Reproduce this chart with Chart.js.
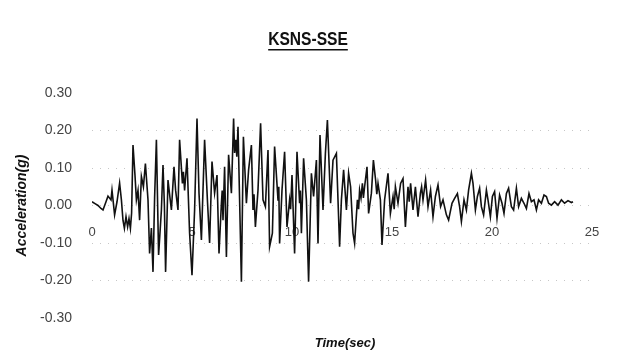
<!DOCTYPE html>
<html>
<head>
<meta charset="utf-8">
<title>KSNS-SSE</title>
<script src="https://cdn.jsdelivr.net/npm/chart.js@4.4.1/dist/chart.umd.min.js"></script>
<style>
  html, body { margin: 0; padding: 0; background: #fff; }
  #wrap { width: 624px; height: 358px; position: relative; }
</style>
</head>
<body>
<div id="wrap"><canvas id="chart-main"></canvas></div>
<script>
/* global Chart */

const chartTitle = "KSNS-SSE";
const xTitle = "Time(sec)";
const yTitle = "Acceleration(g)";

const xTickValues = [0, 5, 10, 15, 20, 25];
const yTickValues = [-0.3, -0.2, -0.1, 0, 0.1, 0.2, 0.3];

// seconds
const timeSec = [
  0.00, 0.15, 0.30, 0.45, 0.55, 0.70, 0.80, 0.95, 1.00, 1.13,
  1.25, 1.38, 1.47, 1.55, 1.62, 1.70, 1.78, 1.85, 1.92, 1.98,
  2.05, 2.15, 2.22, 2.30, 2.38, 2.47, 2.57, 2.67, 2.80, 2.88,
  2.97, 3.05, 3.13, 3.22, 3.33, 3.47, 3.55, 3.62, 3.68, 3.80,
  3.90, 3.97, 4.10, 4.18, 4.30, 4.38, 4.52, 4.57, 4.63, 4.75,
  4.88, 5.00, 5.13, 5.25, 5.35, 5.47, 5.63, 5.77, 5.88, 6.00,
  6.13, 6.25, 6.35, 6.47, 6.51, 6.55, 6.63, 6.72, 6.83, 6.97,
  7.08, 7.13, 7.19, 7.24, 7.30, 7.38, 7.47, 7.57, 7.72, 7.83,
  7.97, 8.05, 8.10, 8.17, 8.30, 8.43, 8.55, 8.67, 8.80, 8.88,
  9.02, 9.13, 9.30, 9.34, 9.38, 9.50, 9.63, 9.75, 9.88, 9.93,
  10.00, 10.13, 10.25, 10.38, 10.42, 10.47, 10.58, 10.72, 10.83, 10.97,
  11.08, 11.22, 11.30, 11.40, 11.55, 11.67, 11.77, 11.93, 12.05, 12.22,
  12.30, 12.38, 12.47, 12.58, 12.72, 12.83, 12.93, 13.05, 13.13, 13.27,
  13.33, 13.38, 13.45, 13.52, 13.57, 13.63, 13.75, 13.83, 13.97, 14.07,
  14.18, 14.24, 14.30, 14.42, 14.50, 14.63, 14.80, 14.92, 15.05, 15.11,
  15.17, 15.30, 15.43, 15.55, 15.67, 15.80, 15.86, 15.93, 16.05, 16.17,
  16.30, 16.42, 16.48, 16.55, 16.68, 16.80, 16.93, 17.05, 17.17, 17.30,
  17.43, 17.55, 17.72, 17.83, 18.00, 18.13, 18.27, 18.38, 18.47, 18.60,
  18.72, 18.83, 18.97, 19.05, 19.17, 19.27, 19.38, 19.47, 19.58, 19.72,
  19.80, 19.92, 20.02, 20.13, 20.25, 20.38, 20.50, 20.60, 20.72, 20.83,
  20.97, 21.08, 21.22, 21.33, 21.47, 21.60, 21.72, 21.85, 21.97, 22.10,
  22.22, 22.33, 22.47, 22.60, 22.72, 22.83, 22.97, 23.13, 23.30, 23.47,
  23.63, 23.80, 23.97, 24.05,
];

// acceleration, g
const accelG = [
  0.010, 0.005, 0.000, -0.008, -0.012, 0.010, 0.025, 0.015, 0.041, -0.025,
  0.010, 0.060, 0.015, -0.040, -0.061, -0.030, -0.057, -0.035, -0.061, -0.020,
  0.161, 0.080, 0.015, 0.040, -0.039, 0.077, 0.050, 0.112, 0.015, -0.128,
  -0.060, -0.177, 0.020, 0.175, -0.132, -0.012, 0.108, 0.000, -0.177, 0.068,
  0.020, -0.012, 0.103, 0.041, -0.012, 0.175, 0.059, 0.090, 0.040, 0.126,
  -0.074, -0.186, -0.012, 0.232, 0.033, -0.092, 0.175, 0.015, -0.100, 0.117,
  0.033, 0.081, -0.128, 0.006, 0.040, -0.039, 0.103, -0.137, 0.135, 0.033,
  0.232, 0.140, 0.175, 0.130, 0.210, 0.015, -0.203, 0.183, 0.006, 0.095,
  0.161, -0.012, 0.030, -0.057, 0.041, 0.219, 0.015, -0.003, 0.148, -0.110,
  -0.074, 0.157, 0.015, 0.050, -0.101, 0.041, 0.143, -0.057, 0.015, -0.010,
  0.081, -0.128, 0.143, 0.006, 0.040, -0.074, 0.126, 0.015, -0.203, 0.086,
  0.024, 0.121, -0.101, 0.188, -0.012, 0.139, 0.228, 0.006, 0.121, 0.139,
  0.015, -0.110, 0.015, 0.095, -0.012, 0.086, 0.050, -0.074, -0.101, 0.015,
  -0.010, 0.041, 0.020, 0.059, 0.020, 0.050, 0.103, -0.021, 0.033, 0.121,
  0.068, 0.030, 0.059, 0.015, -0.105, 0.015, 0.086, -0.021, 0.024, -0.010,
  0.050, 0.006, 0.059, 0.072, -0.057, 0.050, 0.010, 0.059, -0.012, 0.050,
  -0.030, 0.033, 0.050, 0.015, 0.068, -0.003, 0.041, -0.030, 0.024, 0.055,
  -0.003, 0.015, -0.025, -0.039, 0.006, 0.019, 0.032, -0.003, -0.043, 0.015,
  -0.012, 0.041, 0.086, 0.059, -0.012, 0.024, 0.046, -0.003, -0.025, 0.041,
  0.015, -0.030, 0.024, 0.037, -0.034, 0.028, 0.006, -0.021, 0.032, 0.046,
  -0.003, -0.012, 0.046, -0.003, 0.019, 0.006, -0.008, 0.032, 0.010, 0.015,
  -0.012, 0.015, 0.006, 0.028, 0.024, 0.006, 0.001, 0.010, 0.001, 0.015,
  0.006, 0.013, 0.008, 0.010,
];

const FONT = "'Liberation Sans', Arial, sans-serif";

const titlePlugin = {
  id: "titleText",
  afterDraw(chart) {
    const { ctx, chartArea } = chart;
    ctx.save();
    ctx.fillStyle = "#111";
    ctx.textAlign = "center";
    ctx.textBaseline = "middle";
    // condensed bold, like the narrow face of the original
    const cx = chart.width / 2 - 4;
    ctx.save();
    ctx.translate(cx, 40);
    ctx.scale(0.82, 1);
    ctx.font = "bold 19px " + FONT;
    ctx.fillText(chartTitle, 0, 0);
    const w = ctx.measureText(chartTitle).width * 0.82;
    ctx.restore();
    ctx.fillRect(cx - w / 2, 49, w, 1.5);

    ctx.font = "italic bold 13px " + FONT;
    ctx.fillText(xTitle, (chartArea.left + chartArea.right) / 2 + 3, 343);
    ctx.restore();
  },
};

const points = timeSec.map((t, i) => ({ x: t, y: accelG[i] }));

const ctx = document.getElementById("chart-main").getContext("2d");
new Chart(ctx, {
  type: "line",
  data: {
    datasets: [
      {
        data: points,
        borderColor: "#111",
        borderWidth: 1.6,
        pointRadius: 0,
        tension: 0,
        fill: false,
      },
    ],
  },
  options: {
    responsive: true,
    maintainAspectRatio: false,
    animation: false,
    parsing: false,
    layout: { padding: { top: 93, right: 32, bottom: 40, left: 0 } },
    plugins: {
      legend: { display: false },
      tooltip: { enabled: false },
    },
    scales: {
      x: {
        type: "linear",
        position: { y: 0 },
        min: 0,
        max: 25,
        afterBuildTicks: (scale) => {
          scale.ticks = xTickValues.map((v) => ({ value: v }));
        },
        grid: { display: false, drawTicks: false },
        border: { display: false },
        ticks: {
          padding: 19,
          color: "#444",
          font: { family: FONT, size: 13 },
          callback: (v) => String(v),
        },
      },
      y: {
        type: "linear",
        min: -0.3,
        max: 0.3,
        afterBuildTicks: (scale) => {
          scale.ticks = yTickValues.map((v) => ({ value: v }));
        },
        afterFit: (scale) => {
          scale.width = 92;
        },
        grid: {
          color: (c) =>
            Math.abs(c.tick.value) > 0.25 ? "rgba(0,0,0,0)" : "rgba(0,0,0,0.22)",
          lineWidth: 1,
          drawTicks: false,
        },
        border: { display: false, dash: [1, 7] },
        ticks: {
          padding: 20,
          color: "#444",
          font: { family: FONT, size: 14 },
          callback: (v) => Number(v).toFixed(2),
        },
        title: {
          display: true,
          text: yTitle,
          color: "#111",
          font: { family: FONT, size: 14, weight: "bold", style: "italic" },
          padding: { top: 14, bottom: 0 },
        },
      },
    },
  },
  plugins: [titlePlugin],
});
</script>
</body>
</html>
